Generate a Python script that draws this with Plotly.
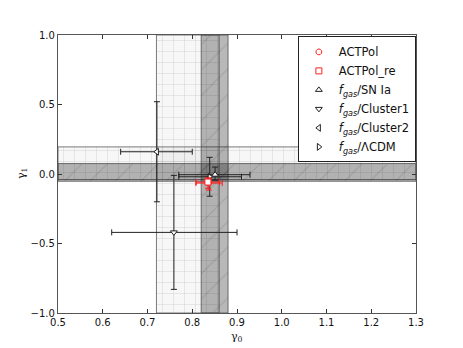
import plotly.graph_objects as go

# ---- data ----
series_names = ["ACTPol", "ACTPol_re",
                "<i>f</i><sub><i>gas</i></sub>/SN Ia",
                "<i>f</i><sub><i>gas</i></sub>/Cluster1",
                "<i>f</i><sub><i>gas</i></sub>/Cluster2",
                "<i>f</i><sub><i>gas</i></sub>/ΛCDM"]
gamma0 = [0.837, 0.835, 0.851, 0.759, 0.721, 0.839]
gamma0_err_plus = [0.030, 0.026, 0.078, 0.141, 0.079, 0.071]
gamma0_err_minus = [0.029, 0.026, 0.081, 0.139, 0.081, 0.069]
gamma1 = [-0.065, -0.058, -0.005, -0.42, 0.16, -0.02]
gamma1_err_plus = [0.035, 0.030, 0.055, 0.41, 0.36, 0.14]
gamma1_err_minus = [0.050, 0.045, 0.040, 0.41, 0.36, 0.14]
symbols = ["octagon", "square", "triangle-up", "triangle-down",
           "triangle-left", "triangle-right"]
colors = ["#ff2020", "#ff2020", "#222222", "#222222", "#222222", "#222222"]

# prior bands
gamma0_light_band = [0.72, 0.86]
gamma0_dark_band = [0.82, 0.88]
gamma1_light_band = [-0.04, 0.195]
gamma1_dark_band = [-0.052, 0.075]

x_range = [0.5, 1.3]
y_range = [-1.0, 1.0]
x_ticks = [0.5, 0.6, 0.7, 0.8, 0.9, 1.0, 1.1, 1.2, 1.3]
y_ticks = [-1.0, -0.5, 0.0, 0.5, 1.0]

fig = go.Figure()

def vband(b):
    xs = [b[0], b[1], b[1], b[0], b[0]]
    ys = [y_range[0], y_range[0], y_range[1], y_range[1], y_range[0]]
    return xs, ys

def hband(b):
    xs = [x_range[0], x_range[1], x_range[1], x_range[0], x_range[0]]
    ys = [b[0], b[0], b[1], b[1], b[0]]
    return xs, ys

light_pattern = dict(shape="+", bgcolor="rgba(0,0,0,0.03)", fgcolor="rgba(0,0,0,0.16)",
                     size=11, solidity=0.08, fillmode="replace")
dark_pattern = dict(shape="/", bgcolor="rgba(0,0,0,0.28)", fgcolor="rgba(0,0,0,0.12)",
                    size=18, solidity=0.06, fillmode="replace")

for fn, b in [(vband, gamma0_light_band), (hband, gamma1_light_band)]:
    xs, ys = fn(b)
    fig.add_trace(go.Scatter(x=xs, y=ys, mode="lines", fill="toself",
                             fillpattern=light_pattern,
                             line=dict(color="rgba(90,90,90,0.8)", width=1),
                             showlegend=False, hoverinfo="skip"))
for fn, b in [(vband, gamma0_dark_band), (hband, gamma1_dark_band)]:
    xs, ys = fn(b)
    fig.add_trace(go.Scatter(x=xs, y=ys, mode="lines", fill="toself",
                             fillpattern=dark_pattern,
                             line=dict(color="rgba(80,80,80,0.8)", width=1),
                             showlegend=False, hoverinfo="skip"))

order = [4, 3, 5, 2, 0, 1]
for i in order:
    fig.add_trace(go.Scatter(
        x=[gamma0[i]], y=[gamma1[i]], mode="markers", name=series_names[i],
        marker=dict(symbol=symbols[i], size=6, color="white",
                    line=dict(color=colors[i], width=1)),
        error_x=dict(type="data", symmetric=False, array=[gamma0_err_plus[i]],
                     arrayminus=[gamma0_err_minus[i]], color=colors[i],
                     thickness=1, width=3),
        error_y=dict(type="data", symmetric=False, array=[gamma1_err_plus[i]],
                     arrayminus=[gamma1_err_minus[i]], color=colors[i],
                     thickness=1, width=3),
        legendrank=i + 1,
    ))

axis_common = dict(showgrid=False, zeroline=False, showline=True, linecolor="#555",
                   linewidth=1.2, mirror="allticks", ticks="inside", ticklen=4,
                   tickcolor="#333", automargin=False,
                   tickfont=dict(family="DejaVu Sans", size=10, color="#111"))

fig.update_layout(
    width=455, height=340,
    margin=dict(l=50, r=47, t=27, b=35, autoexpand=False),
    paper_bgcolor="white", plot_bgcolor="white",
    font=dict(family="DejaVu Sans", color="#111"),
    xaxis=dict(range=x_range, tickvals=x_ticks,
               ticktext=[f"{v:.1f}" for v in x_ticks], **axis_common),
    yaxis=dict(range=y_range, tickvals=y_ticks,
               ticktext=[f"{v:.1f}".replace("-", "−") for v in y_ticks],
               **axis_common),
    legend=dict(x=0.670, y=0.995, xanchor="left", yanchor="top",
                bgcolor="white", bordercolor="#222", borderwidth=1,
                font=dict(family="DejaVu Sans", size=11.5), tracegroupgap=0),
    annotations=[
        dict(text="γ<sub>0</sub>", xref="paper", yref="paper", x=0.5, y=0,
             yshift=-24, xanchor="center", yanchor="middle", showarrow=False,
             font=dict(family="DejaVu Serif", size=11)),
        dict(text="γ<sub>1</sub>", xref="paper", yref="paper", x=0, y=0.5,
             xshift=-36, xanchor="center", yanchor="middle", showarrow=False,
             textangle=-90, font=dict(family="DejaVu Serif", size=11)),
    ],
)

fig.write_html("out.html")
